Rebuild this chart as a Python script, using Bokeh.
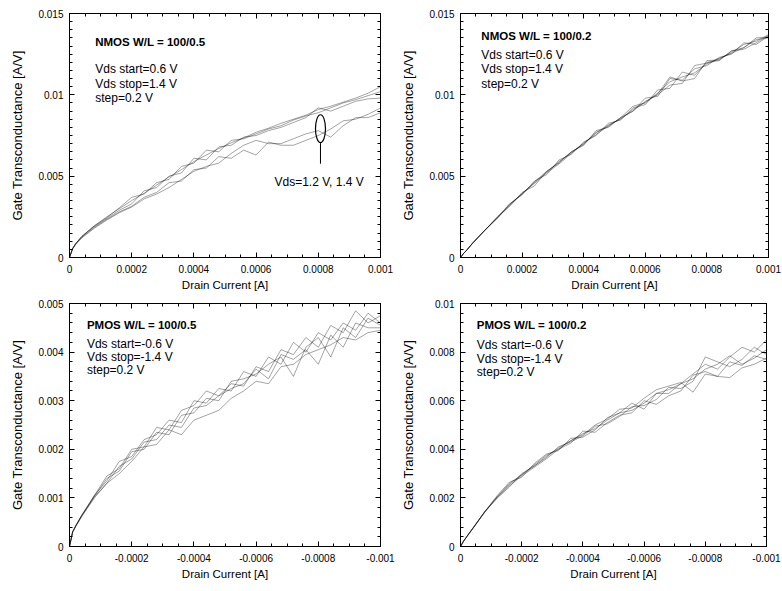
from bokeh.plotting import figure
from bokeh.models import Range1d, FixedTicker, LinearAxis, Label
from bokeh.layouts import column, row
from bokeh.embed import file_html
from bokeh.resources import INLINE

FONT = "Liberation Sans"

# ---------------- data (drain current in A, transconductance in mS -> A/V) ----------------
drain_current_nmos = [0, 0.00001, 0.00002, 0.00004, 0.00008, 0.00012, 0.00016, 0.0002, 0.00024,
                      0.00028, 0.00032, 0.00036, 0.0004, 0.00044, 0.00048, 0.00052, 0.00056,
                      0.0006, 0.00064, 0.00068, 0.00072, 0.00076, 0.0008, 0.00084, 0.00088,
                      0.00092, 0.00096, 0.001]
drain_current_pmos = [0, -0.00001, -0.00002, -0.00004, -0.00008, -0.00012, -0.00016, -0.0002,
                      -0.00024, -0.00028, -0.00032, -0.00036, -0.0004, -0.00044, -0.00048,
                      -0.00052, -0.00056, -0.0006, -0.00064, -0.00068, -0.00072, -0.00076,
                      -0.0008, -0.00084, -0.00088, -0.00092, -0.00096, -0.001]

vds_nmos = ["0.6 V", "0.8 V", "1.0 V", "1.2 V", "1.4 V"]
vds_pmos = ["-0.6 V", "-0.8 V", "-1.0 V", "-1.2 V", "-1.4 V"]

# NMOS W/L = 100/0.5  (mS)
gm_n05_06 = [0, 0.55, 0.85, 1.3, 1.95, 2.5, 3.0, 3.5, 3.95, 4.45, 4.95, 5.4, 5.9, 6.3, 6.7, 7.05, 7.35, 7.7, 7.95, 8.25, 8.5, 8.75, 9.1, 9.3, 9.55, 9.8, 10.1, 10.5]
gm_n05_08 = [0, 0.55, 0.85, 1.3, 1.95, 2.45, 3.05, 3.7, 3.9, 4.6, 4.8, 5.6, 5.8, 6.6, 6.5, 7.2, 7.3, 7.6, 7.9, 8.1, 8.45, 8.7, 8.9, 9.2, 9.5, 9.7, 9.95, 10.2]
gm_n05_10 = [0, 0.55, 0.85, 1.3, 1.9, 2.4, 2.9, 3.3, 4.1, 4.3, 5.0, 5.2, 6.1, 6.0, 6.8, 6.9, 7.4, 7.5, 7.8, 8.0, 8.3, 8.6, 9.2, 9.0, 9.3, 9.6, 9.75, 9.8]
gm_n05_12 = [0, 0.55, 0.85, 1.25, 1.85, 2.35, 2.8, 3.15, 3.7, 4.0, 4.6, 4.7, 5.4, 5.5, 6.2, 6.1, 6.6, 6.3, 7.1, 6.9, 6.9, 7.2, 7.5, 7.9, 8.4, 8.5, 8.8, 9.2]
gm_n05_14 = [0, 0.52, 0.8, 1.2, 1.8, 2.3, 2.75, 3.1, 3.6, 3.9, 4.3, 4.8, 5.3, 5.6, 5.8, 6.4, 6.9, 7.2, 7.0, 7.0, 7.3, 7.6, 7.8, 7.4, 8.1, 8.6, 8.6, 8.9]

# NMOS W/L = 100/0.2  (mS)
gm_n02_06 = [0, 0.25, 0.45, 0.9, 1.7, 2.45, 3.25, 3.9, 4.6, 5.25, 5.9, 6.45, 7.0, 7.65, 8.15, 8.5, 9.1, 9.55, 10.1, 10.8, 11.1, 11.35, 11.9, 12.2, 12.6, 13.1, 13.3, 13.7]
gm_n02_08 = [0, 0.25, 0.45, 0.9, 1.7, 2.5, 3.15, 4.0, 4.4, 5.3, 5.8, 6.5, 6.9, 7.8, 8.0, 8.6, 9.0, 9.8, 9.9, 11.0, 10.9, 11.6, 11.8, 12.3, 12.5, 13.2, 13.1, 13.6]
gm_n02_10 = [0, 0.25, 0.45, 0.9, 1.7, 2.4, 3.3, 3.85, 4.7, 5.1, 6.0, 6.35, 7.1, 7.5, 8.25, 8.45, 9.2, 9.4, 10.3, 10.4, 11.4, 11.2, 12.0, 12.1, 12.7, 12.9, 13.4, 13.5]
gm_n02_12 = [0, 0.25, 0.44, 0.89, 1.68, 2.45, 3.2, 3.95, 4.55, 5.2, 5.75, 6.4, 7.05, 7.55, 8.1, 8.55, 9.0, 9.6, 10.0, 10.6, 10.7, 11.8, 11.95, 12.25, 12.55, 12.9, 13.5, 13.55]
gm_n02_14 = [0, 0.25, 0.44, 0.89, 1.68, 2.5, 3.3, 3.9, 4.65, 5.3, 5.85, 6.5, 6.95, 7.7, 8.05, 8.6, 9.3, 9.5, 10.05, 11.1, 10.85, 11.0, 12.1, 12.15, 12.7, 12.8, 13.2, 13.65]

# PMOS W/L = 100/0.5  (mS)
gm_p05_06 = [0, 0.3, 0.43, 0.65, 1.05, 1.45, 1.6, 2.0, 2.05, 2.45, 2.4, 2.8, 2.9, 3.2, 3.1, 3.35, 3.3, 3.7, 3.6, 4.05, 3.95, 4.3, 4.1, 4.55, 4.4, 4.85, 4.6, 4.75]
gm_p05_08 = [0, 0.3, 0.43, 0.65, 1.05, 1.35, 1.75, 1.85, 2.2, 2.3, 2.6, 2.55, 3.0, 2.95, 3.25, 3.2, 3.6, 3.5, 3.9, 3.75, 4.2, 4.0, 4.4, 4.25, 4.6, 4.45, 4.8, 4.6]
gm_p05_10 = [0, 0.3, 0.42, 0.64, 1.03, 1.4, 1.55, 1.95, 2.0, 2.35, 2.3, 2.7, 2.75, 3.05, 3.0, 3.4, 3.45, 3.55, 3.75, 3.9, 3.5, 4.1, 4.3, 3.9, 4.5, 4.3, 4.7, 4.55]
gm_p05_12 = [0, 0.3, 0.42, 0.64, 1.02, 1.3, 1.65, 1.8, 2.15, 2.2, 2.5, 2.45, 2.85, 2.9, 3.1, 3.25, 3.35, 3.65, 3.45, 3.95, 3.85, 4.05, 3.75, 4.35, 4.1, 4.6, 4.5, 4.5]
gm_p05_14 = [0, 0.29, 0.41, 0.62, 1.0, 1.3, 1.5, 1.75, 2.05, 2.1, 2.4, 2.3, 2.6, 2.7, 2.8, 3.05, 3.2, 3.4, 3.35, 3.7, 3.75, 3.95, 4.05, 4.15, 4.3, 4.25, 4.4, 4.45]

# PMOS W/L = 100/0.2  (mS)
gm_p02_06 = [0, 0.22, 0.4, 0.75, 1.45, 2.05, 2.6, 2.95, 3.35, 3.75, 4.0, 4.35, 4.65, 4.85, 5.2, 5.5, 5.6, 5.9, 6.3, 6.45, 6.7, 7.1, 7.5, 7.3, 7.8, 8.2, 8.0, 8.5]
gm_p02_08 = [0, 0.22, 0.4, 0.75, 1.45, 2.0, 2.45, 3.0, 3.3, 3.65, 4.1, 4.3, 4.55, 4.95, 5.05, 5.35, 5.75, 5.8, 6.05, 6.55, 6.5, 6.8, 7.8, 7.6, 7.4, 7.7, 8.2, 7.9]
gm_p02_10 = [0, 0.22, 0.4, 0.74, 1.44, 2.1, 2.65, 2.85, 3.4, 3.8, 3.95, 4.45, 4.5, 4.8, 5.3, 5.5, 5.9, 5.65, 6.3, 6.3, 6.7, 6.9, 7.3, 7.5, 7.85, 7.5, 7.75, 8.1]
gm_p02_12 = [0, 0.22, 0.39, 0.74, 1.43, 2.0, 2.5, 2.9, 3.25, 3.6, 4.0, 4.25, 4.75, 4.7, 5.1, 5.4, 5.5, 6.0, 5.85, 6.2, 6.4, 7.05, 7.2, 7.0, 7.6, 7.45, 7.85, 7.7]
gm_p02_14 = [0, 0.21, 0.39, 0.73, 1.42, 2.05, 2.55, 2.95, 3.3, 3.7, 4.05, 4.35, 4.6, 5.0, 5.25, 5.65, 5.7, 6.1, 6.45, 6.6, 6.75, 6.35, 7.1, 7.0, 6.95, 7.35, 7.5, 7.75]

# tick labels
xticks_nmos = [0, 0.0002, 0.0004, 0.0006, 0.0008, 0.001]
xlabels_nmos = ["0", "0.0002", "0.0004", "0.0006", "0.0008", "0.001"]
xticks_pmos = [0, -0.0002, -0.0004, -0.0006, -0.0008, -0.001]
xlabels_pmos = ["0", "-0.0002", "-0.0004", "-0.0006", "-0.0008", "-0.001"]
yticks_015 = [0, 0.005, 0.01, 0.015]
ylabels_015 = ["0", "0.005", "0.01", "0.015"]
yticks_005 = [0, 0.001, 0.002, 0.003, 0.004, 0.005]
ylabels_005 = ["0", "0.001", "0.002", "0.003", "0.004", "0.005"]
yticks_010 = [0, 0.002, 0.004, 0.006, 0.008, 0.01]
ylabels_010 = ["0", "0.002", "0.004", "0.006", "0.008", "0.01"]

MS = 1e-3


def minor(start, stop, step):
    n = int(round((stop - start) / step))
    return [start + i * step for i in range(n + 1)]


def style_axis(ax, ticks, labels, minors, show_labels, standoff):
    ax.ticker = FixedTicker(ticks=ticks, minor_ticks=minors)
    ax.major_tick_in = 5
    ax.major_tick_out = 0
    ax.minor_tick_in = 3
    ax.minor_tick_out = 0
    ax.axis_line_color = "black"
    ax.major_tick_line_color = "black"
    ax.minor_tick_line_color = "black"
    ax.major_label_text_font = FONT
    if show_labels:
        ax.major_label_overrides = {t: l for t, l in zip(ticks, labels)}
        ax.major_label_text_color = "black"
        ax.major_label_text_font_size = "10px"
        ax.major_label_standoff = standoff
    else:
        # mirrored tick marks only: labels are empty and not drawn
        ax.major_label_overrides = {t: "" for t in ticks}
        ax.major_label_text_color = None
        ax.major_label_text_font_size = "1px"
        ax.major_label_standoff = 0


def panel(width, height, bl, br, bt, bb, xr, yr, xt, xl, xm, yt, yl, ym, xs, series,
          title, lines, tx, ty):
    p = figure(width=width, height=height, x_range=Range1d(*xr), y_range=Range1d(*yr),
               output_backend="svg", toolbar_location=None,
               min_border_left=bl, min_border_right=br, min_border_top=bt, min_border_bottom=bb)
    p.xgrid.visible = False
    p.ygrid.visible = False
    p.outline_line_color = "black"
    p.outline_line_width = 1
    p.background_fill_color = "white"
    p.border_fill_color = "white"

    xa = p.xaxis[0]
    ya = p.yaxis[0]
    style_axis(xa, xt, xl, xm, True, 7)
    style_axis(ya, yt, yl, ym, True, 6)
    xa.axis_label = "Drain Current [A]"
    xa.axis_label_text_font = FONT
    xa.axis_label_text_font_size = "11.5px"
    xa.axis_label_text_font_style = "normal"
    xa.axis_label_text_color = "black"
    xa.axis_label_standoff = 3
    ya.axis_label = "Gate Transconductance [A/V]"
    ya.axis_label_text_font = FONT
    ya.axis_label_text_font_size = "13px"
    ya.axis_label_text_font_style = "normal"
    ya.axis_label_text_color = "black"
    ya.axis_label_standoff = 10

    top = LinearAxis()
    style_axis(top, xt, xl, xm, False, 0)
    p.add_layout(top, "above")
    right = LinearAxis()
    style_axis(right, yt, yl, ym, False, 0)
    p.add_layout(right, "right")

    for ys in series:
        p.line(xs, [v * MS for v in ys], line_color="black", line_alpha=0.36, line_width=1)

    p.add_layout(Label(x=tx, y=ty[0], text=title, text_font=FONT, text_font_size="11.5px",
                       text_font_style="bold", text_baseline="alphabetic", text_color="black"))
    for t, yy in zip(lines, ty[1:]):
        p.add_layout(Label(x=tx, y=yy, text=t, text_font=FONT, text_font_size="12px",
                           text_baseline="alphabetic", text_color="black"))
    return p


p1 = panel(398, 295, 69, 18, 13, 38, (0, 0.001), (0, 0.015),
           xticks_nmos, xlabels_nmos, minor(0, 0.001, 0.00005),
           yticks_015, ylabels_015, minor(0, 0.015, 0.0005),
           drain_current_nmos, [gm_n05_06, gm_n05_08, gm_n05_10, gm_n05_12, gm_n05_14],
           "NMOS W/L = 100/0.5",
           ["Vds start=0.6 V", "Vds stop=1.4 V", "step=0.2 V"],
           0.0000827, [0.01325, 0.011615, 0.010691, 0.00983])
# annotation for Vds = 1.2 V, 1.4 V
p1.ellipse(x=[0.000807], y=[0.007922], width=[0.0000322], height=[0.001705],
           fill_color=None, line_color="black", line_width=1.2)
p1.segment(x0=[0.000807], y0=[0.007035], x1=[0.000807], y1=[0.005767],
           line_color="black", line_width=1)
p1.add_layout(Label(x=0.000659, y=0.004635, text="Vds=1.2 V, 1.4 V", text_font=FONT,
                    text_font_size="12px", text_baseline="alphabetic", text_color="black"))

p2 = panel(384, 295, 60, 14, 13, 38, (0, 0.001), (0, 0.015),
           xticks_nmos, xlabels_nmos, minor(0, 0.001, 0.00005),
           yticks_015, ylabels_015, minor(0, 0.015, 0.0005),
           drain_current_nmos, [gm_n02_06, gm_n02_08, gm_n02_10, gm_n02_12, gm_n02_14],
           "NMOS W/L = 100/0.2",
           ["Vds start=0.6 V", "Vds stop=1.4 V", "step=0.2 V"],
           0.0000677, [0.013621, 0.012433, 0.011572, 0.010691])

p3 = panel(398, 296, 69, 18, 8, 45, (0, -0.001), (0, 0.005),
           xticks_pmos, xlabels_pmos, minor(0, -0.001, -0.00005),
           yticks_005, ylabels_005, minor(0, 0.005, 0.0002),
           drain_current_pmos, [gm_p05_06, gm_p05_08, gm_p05_10, gm_p05_12, gm_p05_14],
           "PMOS W/L = 100/0.5",
           ["Vds start=-0.6 V", "Vds stop=-1.4 V", "step=0.2 V"],
           -0.000056, [0.004553, 0.004176, 0.0039, 0.003626])

p4 = panel(384, 296, 59, 16, 8, 45, (0, -0.001), (0, 0.01),
           xticks_pmos, xlabels_pmos, minor(0, -0.001, -0.00005),
           yticks_010, ylabels_010, minor(0, 0.01, 0.0004),
           drain_current_pmos, [gm_p02_06, gm_p02_08, gm_p02_10, gm_p02_12, gm_p02_14],
           "PMOS W/L = 100/0.2",
           ["Vds start=-0.6 V", "Vds stop=-1.4 V", "step=0.2 V"],
           -0.0000535, [0.009095, 0.008272, 0.007724, 0.007173])

layout = column(row(p1, p2), row(p3, p4))
open("out.html", "w").write(file_html(layout, INLINE))
